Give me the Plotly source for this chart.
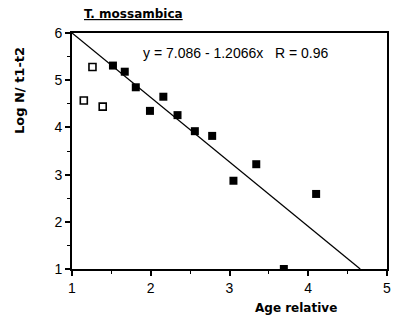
import plotly.graph_objects as go

# filled squares
solid_x = [1.52, 1.67, 1.81, 1.99, 2.16, 2.34, 2.56, 2.78, 3.05, 3.34, 4.10, 3.69]
solid_y = [5.31, 5.18, 4.85, 4.35, 4.65, 4.26, 3.92, 3.82, 2.87, 3.22, 2.59, 1.0]
# open squares
open_x = [1.26, 1.15, 1.39]
open_y = [5.28, 4.57, 4.44]
# drawn regression line
fit_x = [1.0, 4.66]
fit_y = [6.0, 1.0]

x_ticks = [1, 2, 3, 4, 5]
y_ticks = [1, 2, 3, 4, 5, 6]

title_text = "T. mossambica"
eq_text = "y = 7.086 - 1.2066x   R = 0.96"
x_title = "Age relative"
y_title = "Log N/ t1-t2"

fig = go.Figure()
fig.add_trace(go.Scatter(x=fit_x, y=fit_y, mode="lines",
                         line=dict(color="black", width=1.3), showlegend=False))
fig.add_trace(go.Scatter(x=solid_x, y=solid_y, mode="markers",
                         marker=dict(symbol="square", size=8, color="black",
                                     line=dict(width=0)), showlegend=False))
fig.add_trace(go.Scatter(x=open_x, y=open_y, mode="markers",
                         marker=dict(symbol="square", size=7, color="white",
                                     line=dict(color="black", width=1.6)), showlegend=False))

axis_common = dict(showgrid=False, zeroline=False, showline=True, linecolor="black",
                   linewidth=2, mirror=True, ticks="outside", ticklen=5,
                   tickwidth=1.5, tickcolor="black",
                   tickfont=dict(family="Liberation Sans", size=14, color="black"))

fig.update_xaxes(range=[1, 5], tickvals=x_ticks, ticktext=[str(v) for v in x_ticks],
                 minor=dict(ticks="outside", dtick=0.5, ticklen=3, tickwidth=1.2,
                            tickcolor="black"),
                 **axis_common)
fig.update_yaxes(range=[1, 6], tickvals=y_ticks, ticktext=[str(v) for v in y_ticks],
                 minor=dict(ticks="outside", dtick=0.5, ticklen=3, tickwidth=1.2,
                            tickcolor="black"),
                 **axis_common)

fig.add_annotation(text="<u>" + title_text + "</u>", xref="paper", yref="paper",
                   x=0.194, y=1.0, xanchor="center", yanchor="middle", yshift=19,
                   showarrow=False,
                   font=dict(family="DejaVu Sans", size=12, color="black", weight="bold"))
fig.add_annotation(text=eq_text, xref="paper", yref="paper",
                   x=0.22, y=0.915, xanchor="left", yanchor="middle", showarrow=False,
                   font=dict(family="Liberation Sans", size=14, color="black"))
fig.add_annotation(text=x_title, xref="paper", yref="paper",
                   x=0.71, y=0, xanchor="center", yanchor="middle", yshift=-39,
                   showarrow=False,
                   font=dict(family="DejaVu Sans", size=12, color="black", weight="bold"))
fig.add_annotation(text=y_title, xref="paper", yref="paper",
                   x=0, xshift=-53, y=0.754, xanchor="center", yanchor="middle",
                   textangle=-90, showarrow=False,
                   font=dict(family="DejaVu Sans", size=13, color="black", weight="bold"))

fig.update_layout(width=400, height=324, margin=dict(l=72, r=9, t=33, b=55),
                  paper_bgcolor="white", plot_bgcolor="white")

fig.write_html("out.html")
